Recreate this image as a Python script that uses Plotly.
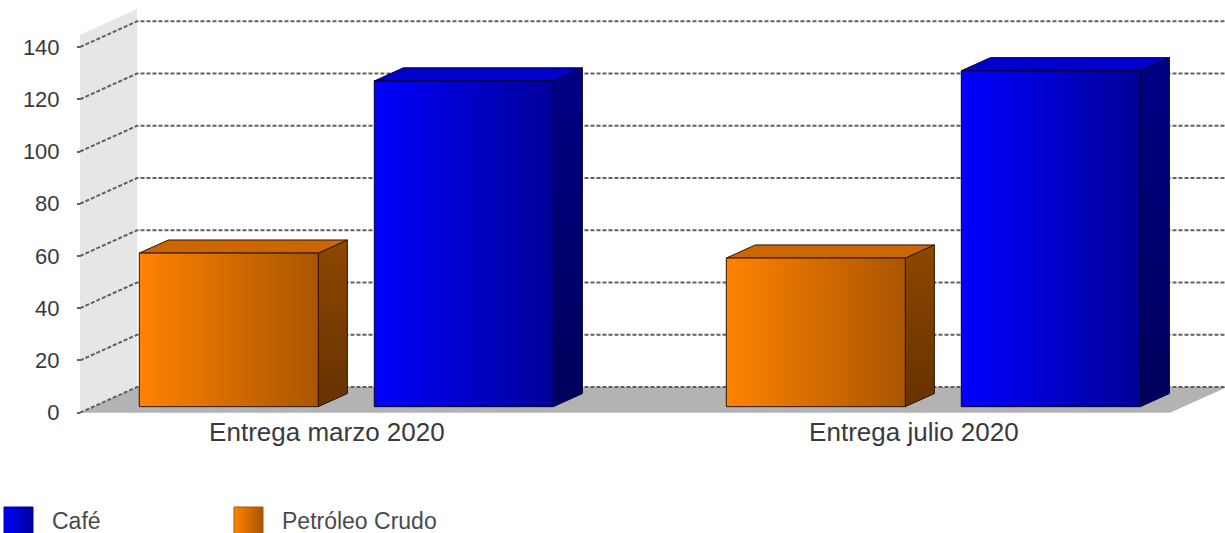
import plotly.graph_objects as go

# ---- data ----
categories = ["Entrega marzo 2020", "Entrega julio 2020"]
petroleo = [58.8, 56.9]
cafe = [124.7, 128.6]
y_ticks = [0, 20, 40, 60, 80, 100, 120, 140]
legend_names = ["Café", "Petróleo Crudo"]

# ---- geometry (x in pixels, y in value units) ----
W, H = 1225, 533
PX_PER_UNIT = 2.612
BASE_PX = 412.7                      # pixel row of value 0 on the front plane
Y_MIN = -(H - BASE_PX) / PX_PER_UNIT
Y_MAX = BASE_PX / PX_PER_UNIT

DEPTH_X = 57                          # horizontal depth of the 3D box (px)
DEPTH_Y = 25.7 / PX_PER_UNIT          # vertical depth of the 3D box (units)
WALL_X = 80
FLOOR_RIGHT = 1170
WALL_TOP = 144.7

CAT_X0, CAT_STEP = 332.9, 587
BAR_W, BAR_GAP = 179, 56
F0, F1 = 0.235, 0.745                 # bar front / back depth fraction
LABEL_SHIFT = -6

styles = {
    "Petróleo Crudo": dict(front=("#ff8300", "#a95500"), top="#cc6600",
                           side=("#653200", "#8e4700"), edge="#2b1500"),
    "Café": dict(front=("#0000ff", "#000098"), top="#0000cc",
                 side=("#00005c", "#000086"), edge="#000030"),
}

TEXT = "#3a3a3a"
FONT = "Liberation Sans, Arial, sans-serif"

fig = go.Figure()


def polygon(xs, ys, fillcolor=None, grad=None, line_color="rgba(0,0,0,0)",
            line_width=1, xaxis="x", yaxis="y"):
    kw = dict(fill="toself")
    if grad is not None:
        gtype, c0, c1 = grad
        kw["fillgradient"] = dict(type=gtype, colorscale=[[0, c0], [1, c1]])
    else:
        kw["fillcolor"] = fillcolor
    fig.add_trace(go.Scatter(
        x=list(xs) + [xs[0]], y=list(ys) + [ys[0]], mode="lines",
        line=dict(color=line_color, width=line_width),
        hoverinfo="skip", showlegend=False, xaxis=xaxis, yaxis=yaxis, **kw))


# floor
polygon([WALL_X, FLOOR_RIGHT, FLOOR_RIGHT + DEPTH_X, WALL_X + DEPTH_X],
        [0, 0, DEPTH_Y, DEPTH_Y], fillcolor="#b3b3b3", line_width=0)
# left wall
polygon([WALL_X, WALL_X, WALL_X + DEPTH_X, WALL_X + DEPTH_X],
        [0, WALL_TOP, WALL_TOP + DEPTH_Y, DEPTH_Y], fillcolor="#e6e6e6", line_width=0)

# dashed gridlines: along the wall, then across the back plane
gx, gy = [], []
for v in y_ticks:
    gx += [WALL_X, WALL_X + DEPTH_X, W + 10, None]
    gy += [v, v + DEPTH_Y, v + DEPTH_Y, None]
fig.add_trace(go.Scatter(x=gx, y=gy, mode="lines", hoverinfo="skip", showlegend=False,
                         line=dict(color="#606060", width=2, dash="4px,2px")))


def bar(xl, v, st):
    dx0, dy0 = F0 * DEPTH_X, F0 * DEPTH_Y
    dx1, dy1 = F1 * DEPTH_X, F1 * DEPTH_Y
    xr = xl + BAR_W
    # right side
    polygon([xr + dx0, xr + dx1, xr + dx1, xr + dx0],
            [dy0, dy1, v + dy1, v + dy0],
            grad=("vertical", st["side"][0], st["side"][1]), line_color=st["edge"])
    # top
    polygon([xl + dx0, xr + dx0, xr + dx1, xl + dx1],
            [v + dy0, v + dy0, v + dy1, v + dy1],
            fillcolor=st["top"], line_color=st["edge"])
    # front
    polygon([xl + dx0, xr + dx0, xr + dx0, xl + dx0],
            [dy0, dy0, v + dy0, v + dy0],
            grad=("horizontal", st["front"][0], st["front"][1]), line_color=st["edge"])


for i, cat in enumerate(categories):
    c = CAT_X0 + i * CAT_STEP
    bar(c - BAR_GAP / 2 - BAR_W, petroleo[i], styles["Petróleo Crudo"])
    bar(c + BAR_GAP / 2, cafe[i], styles["Café"])

# legend (pixel overlay axes)
LEG_X0, LEG_STEP, LEG_Y, LEG_S = 4, 230, 507, 29
for k, name in enumerate(legend_names):
    st = styles[name]
    x0 = LEG_X0 + k * LEG_STEP
    polygon([x0, x0 + LEG_S, x0 + LEG_S, x0], [LEG_Y, LEG_Y, LEG_Y + LEG_S, LEG_Y + LEG_S],
            grad=("horizontal", st["front"][0], st["front"][1]),
            line_color=st["front"][1], line_width=1, xaxis="x2", yaxis="y2")
    fig.add_annotation(x=(x0 + 46) / W, y=1 - 520.5 / H, xref="paper", yref="paper",
                       text=name, showarrow=False, xanchor="left", yanchor="middle",
                       font=dict(family=FONT, size=23, color="#4a4a4a"))

fig.update_layout(
    width=W, height=H, autosize=False,
    margin=dict(l=0, r=0, t=0, b=0, pad=0),
    paper_bgcolor="white", plot_bgcolor="white",
    showlegend=False,
    xaxis=dict(range=[0, W], domain=[0, 1], anchor="free",
               position=(H - BASE_PX) / H,
               tickmode="array",
               tickvals=[CAT_X0 + i * CAT_STEP + LABEL_SHIFT for i in range(len(categories))],
               ticktext=categories, ticks="", showgrid=False, zeroline=False,
               showline=False, ticklabelstandoff=1,
               tickfont=dict(family=FONT, size=26, color=TEXT), fixedrange=True),
    yaxis=dict(range=[Y_MIN, Y_MAX], domain=[0, 1], anchor="free",
               position=WALL_X / W, side="left",
               tickmode="array", tickvals=y_ticks, ticktext=[str(t) for t in y_ticks],
               ticks="outside", ticklen=3, tickwidth=2, tickcolor="#606060",
               showgrid=False, zeroline=False, showline=False, ticklabelstandoff=13,
               tickfont=dict(family=FONT, size=22, color=TEXT), fixedrange=True),
    xaxis2=dict(range=[0, W], domain=[0, 1], overlaying="x", visible=False, fixedrange=True),
    yaxis2=dict(range=[H, 0], domain=[0, 1], overlaying="y", visible=False, fixedrange=True),
)

fig.write_html("out.html", config={"displayModeBar": False})
